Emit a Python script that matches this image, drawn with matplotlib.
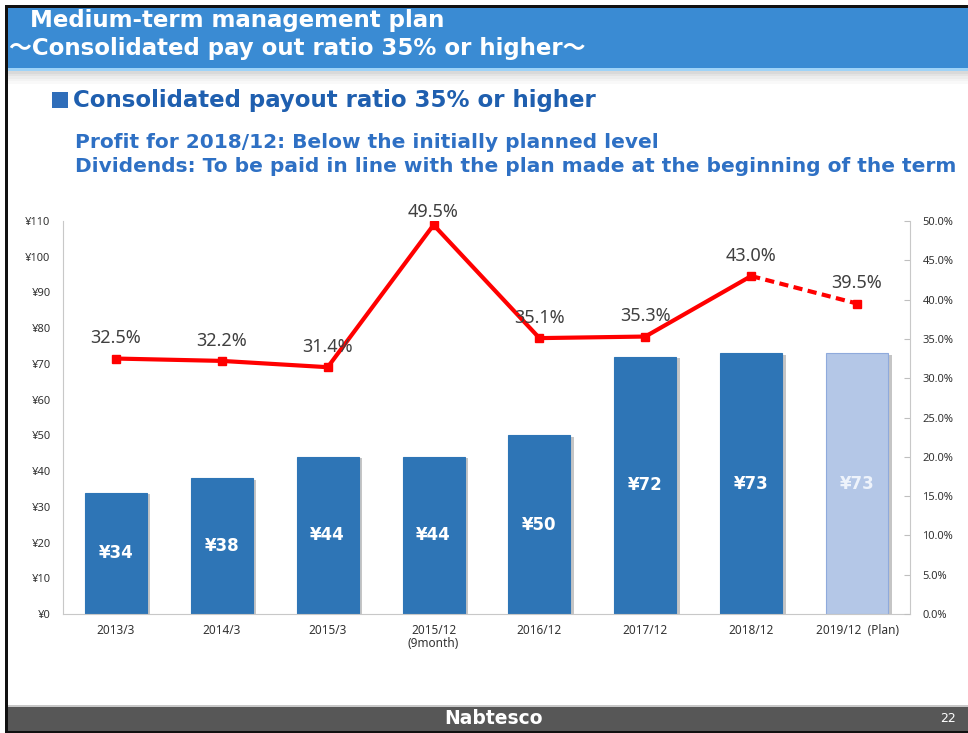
import matplotlib
matplotlib.use("Agg")
import matplotlib.pyplot as plt
from matplotlib.patches import Rectangle
import matplotlib.patheffects as pe

# ---------------- data ----------------
categories = ["2013/3", "2014/3", "2015/3", "2015/12\n(9month)", "2016/12",
              "2017/12", "2018/12", "2019/12  (Plan)"]
dividends = [34, 38, 44, 44, 50, 72, 73, 73]
payout_ratio = [32.5, 32.2, 31.4, 49.5, 35.1, 35.3, 43.0, 39.5]
left_ticks = [0, 10, 20, 30, 40, 50, 60, 70, 80, 90, 100, 110]
right_ticks = [0, 5, 10, 15, 20, 25, 30, 35, 40, 45, 50]

W, H = 968, 733
fig = plt.figure(figsize=(W / 100, H / 100), dpi=100)
fig.patch.set_facecolor("white")


def fx(x):
    return x / W


def fy(y):
    return 1 - y / H


def rect(x0, y0, x1, y1, color, z=0, **kw):
    fig.add_artist(Rectangle((fx(x0), fy(y1)), fx(x1) - fx(x0), fy(y0) - fy(y1),
                             transform=fig.transFigure, facecolor=color,
                             edgecolor="none", zorder=z, **kw))


# ---------------- slide frame ----------------
rect(8, 8, W, 68, "#3A8BD3", z=1)
rect(8, 68, W, 71, "#9FD3F7", z=1)
shades = ["#D9D9D9", "#E3E3E3", "#ECECEC", "#F3F3F3", "#F9F9F9"]
for i, c in enumerate(shades):
    rect(8, 71 + i * 2.5, W, 73.5 + i * 2.5, c, z=1)
rect(5, 5, W, 8, "#111111", z=3)
rect(5, 5, 8, H, "#111111", z=3)
rect(8, 705, W, 707, "#C8C8C8", z=1)
rect(8, 707, W, 731, "#575757", z=1)
rect(5, 731, W, H, "#111111", z=3)

title_font = ["DejaVu Sans", "Noto Sans CJK JP"]
fig.text(fx(30), fy(20), "Medium-term management plan", color="white",
         fontsize=16.5, fontweight="bold", family=title_font, va="center", ha="left", zorder=5)
fig.text(fx(9), fy(48), "～Consolidated pay out ratio 35% or higher～", color="white",
         fontsize=16.5, fontweight="bold", family=title_font, va="center", ha="left", zorder=5)

rect(52, 92, 68, 108, "#2F6EBA", z=2)
fig.text(fx(73), fy(100), "Consolidated payout ratio 35% or higher", color="#1F5FAF",
         fontsize=16.5, fontweight="bold", family="DejaVu Sans", va="center", ha="left")
fig.text(fx(75), fy(142), "Profit for 2018/12: Below the initially planned level",
         color="#2E70C4", fontsize=14.5, fontweight="bold", family="DejaVu Sans",
         va="center", ha="left")
fig.text(fx(75), fy(166),
         "Dividends: To be paid in line with the plan made at the beginning of the term",
         color="#2E70C4", fontsize=14.5, fontweight="bold", family="DejaVu Sans",
         va="center", ha="left")

fig.text(fx(493), fy(719), "Nabtesco", color="white", fontsize=13.5, fontweight="bold",
         family="DejaVu Sans", va="center", ha="center", zorder=5)
fig.text(fx(948), fy(719), "22", color="white", fontsize=9,
         family="DejaVu Sans", va="center", ha="center", zorder=5)

# ---------------- chart ----------------
ax = fig.add_axes([fx(63), fy(614), fx(910) - fx(63), fy(221) - fy(614)])
ax.set_facecolor("none")
x = list(range(len(categories)))
colors = ["#2E75B6"] * (len(categories) - 1) + ["#B4C7E7"]
edges = ["#2E75B6"] * (len(categories) - 1) + ["#8FAADC"]
bars = ax.bar(x, dividends, width=0.585, color=colors, edgecolor=edges, linewidth=0.8,
              zorder=2)
for b in bars:
    b.set_path_effects([pe.SimplePatchShadow(offset=(2.5, -1), shadow_rgbFace="#7F7F7F",
                                             alpha=0.45), pe.Normal()])
for i, v in enumerate(dividends):
    tc = "white" if i < len(dividends) - 1 else "#EEF3FB"
    ax.text(i, v / 2, f"¥{v}", color=tc, fontsize=12, fontweight="bold",
            family="DejaVu Sans", ha="center", va="center", zorder=4)

ax.set_xlim(-0.5, len(categories) - 0.5)
ax.set_ylim(0, 110)
ax.set_yticks(left_ticks)
ax.set_yticklabels([f"¥{v}" for v in left_ticks])
ax.set_xticks(x)
ax.set_xticklabels(categories, linespacing=1.0)
ax.tick_params(axis="y", length=0, pad=9, labelsize=8, labelcolor="#333333")
ax.tick_params(axis="x", length=0, pad=7, labelsize=8.5, labelcolor="#333333")
for lab in ax.get_xticklabels() + ax.get_yticklabels():
    lab.set_family("Noto Sans")
for s in ["top", "right"]:
    ax.spines[s].set_visible(False)
ax.spines["left"].set_color("#C8C8C8")
ax.spines["bottom"].set_color("#C8C8C8")

ax2 = ax.twinx()
ax2.set_ylim(0, 50)
ax2.set_yticks(right_ticks)
ax2.set_yticklabels([f"{v:.1f}%" for v in right_ticks])
ax2.tick_params(axis="y", direction="in", length=4, color="#BFBFBF", pad=9,
                labelsize=8, labelcolor="#333333")
for lab in ax2.get_yticklabels():
    lab.set_family("Noto Sans")
for s in ["top", "left", "bottom"]:
    ax2.spines[s].set_visible(False)
ax2.spines["right"].set_color("#C8C8C8")

n = len(payout_ratio)
ax2.plot(x[:n - 1], payout_ratio[:n - 1], color="#FF0000", lw=3, marker="s",
         markersize=5.5, zorder=5)
ax2.plot(x[n - 2:], payout_ratio[n - 2:], color="#FF0000", lw=3, ls=(0, (2.2, 1.3)),
         zorder=5)
ax2.plot(x[n - 1:], payout_ratio[n - 1:], color="#FF0000", marker="s", markersize=5.5,
         ls="none", zorder=5)
for i, v in enumerate(payout_ratio):
    off = 9.5 if v > 48 else 14.5
    ax2.annotate(f"{v:.1f}%", (i, v), xytext=(0, off), textcoords="offset points",
                 ha="center", va="center", fontsize=13, color="#404040",
                 family="Noto Sans", zorder=6)

fig.savefig("out.png", dpi=100, facecolor="white")
